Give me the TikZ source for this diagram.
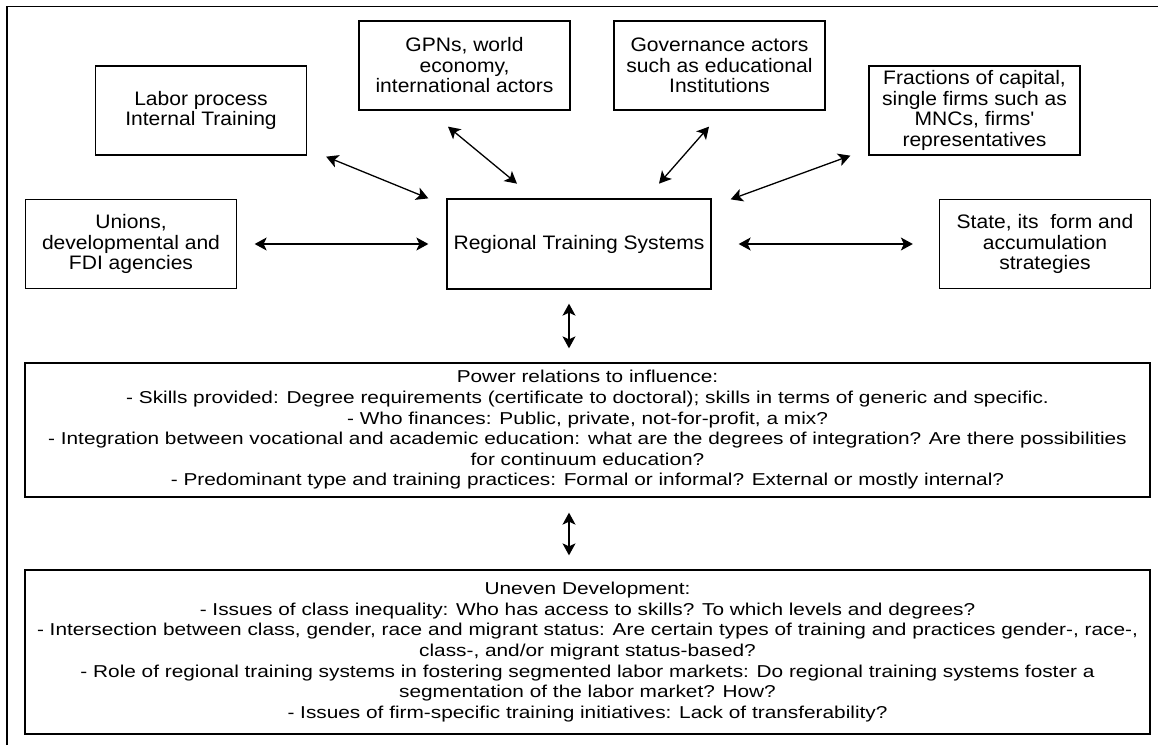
\documentclass[tikz,border=0pt]{standalone}
\usepackage{fontspec}
\setmainfont{Liberation Sans}
\newfontfamily\boxfont[FakeStretch=1.08]{Liberation Sans}
\newfontfamily\listfont[FakeStretch=1.21]{Liberation Sans}
\usetikzlibrary{arrows.meta,calc}

\begin{document}
\begin{tikzpicture}[x=1pt,y=-1pt]
        \tikzstyle{every node}=[align=center, inner sep=2pt]
        \tikzstyle{box}=[draw, line width=1.3pt, minimum width=211pt, minimum height=89pt, font=\boxfont\fontsize{19.5}{20.5}\selectfont]
        \tikzstyle{widebox}=[draw, line width=1.3pt, minimum width=1125pt, font=\listfont\fontsize{17.2}{20.6}\selectfont]
        \tikzstyle{link}=[line width=1.3pt, {Stealth[length=12pt,width=13pt,inset=3pt]}-{Stealth[length=12pt,width=13pt,inset=3pt]}]
        \useasboundingbox (0,0) rectangle (1158,745);
        % frame
        \draw[line width=1.5pt] (7,745) -- (7,6.5) -- (1158,6.5);
        % actors
        \node[box] (labor) at (201,110.5) {Labor process\\Internal Training};
        \node[box] (gpn) at (464.5,65.5) {GPNs, world\\economy,\\international actors};
        \node[box] (gov) at (719.5,65.5) {Governance actors\\such as educational\\Institutions};
        \node[box] (frac) at (974.5,110.5) {Fractions of capital,\\single firms such as\\MNCs, firms'\\representatives};
        \node[box] (unions) at (131,244) {Unions,\\developmental and\\FDI agencies};
        \node[box, minimum width=264pt, minimum height=90pt] (rts) at (579,244) {Regional Training Systems};
        \node[box] (state) at (1045,244) {State, its~~form and\\accumulation\\strategies};
        % power and uneven development
        \node[widebox, minimum height=134pt] (power) at (587.5,430) {Power relations to influence:\\
            - Skills provided: Degree requirements (certificate to doctoral); skills in terms of generic and specific.\\
            - Who finances: Public, private, not-for-profit, a mix?\\
            - Integration between vocational and academic education: what are the degrees of integration? Are there possibilities\\
            for continuum education?\\
            - Predominant type and training practices: Formal or informal? External or mostly internal?};
        \node[widebox, minimum height=164pt] (uneven) at (587.5,652) {Uneven Development:\\
            - Issues of class inequality: Who has access to skills? To which levels and degrees?\\
            - Intersection between class, gender, race and migrant status: Are certain types of training and practices gender-, race-,\\
            class-, and/or migrant status-based?\\
            - Role of regional training systems in fostering segmented labor markets: Do regional training systems foster a\\
            segmentation of the labor market? How?\\
            - Issues of firm-specific training initiatives: Lack of transferability?};
        % links
        \draw[link] ($(labor.south east)+(19,1)$) -- ($(rts.north west)+(-18,0)$);
        \draw[link] ($(gpn.south)+(-16.5,16)$) -- ($(gpn.south)+(52.5,73)$);
        \draw[link] ($(gov.south)+(-10.5,16)$) -- ($(gov.south)+(-60.5,73)$);
        \draw[link] ($(frac.south west)+(-18,0)$) -- ($(rts.north east)+(19,1)$);
        \draw[link] ($(unions.east)+(17.5,0)$) -- ($(rts.west)+(-18,0)$);
        \draw[link] ($(rts.east)+(27,0)$) -- ($(state.west)+(-26,0)$);
        \draw[link] ($(rts.south)+(-10,14)$) -- ($(power.north)+(-18.5,-14)$);
        \draw[link] ($(power.south)+(-18.5,15)$) -- ($(uneven.north)+(-18.5,-14)$);
\end{tikzpicture}
\end{document}
